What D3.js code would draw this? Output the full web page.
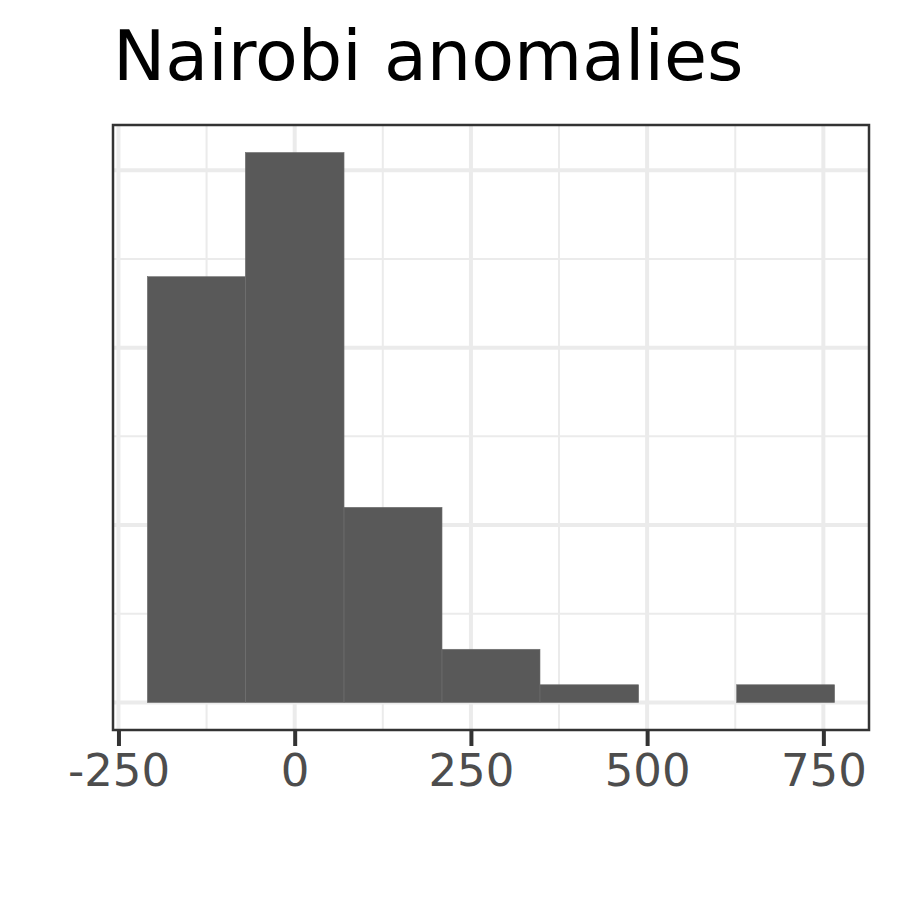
<!DOCTYPE html>
<html>
<head>
<meta charset="utf-8">
<script src="https://cdn.jsdelivr.net/npm/d3@7"></script>
<style>
  body { margin: 0; background: #fff; }
  svg { display: block; }
</style>
</head>
<body>
<div class="chart"></div>
<script>
// histogram bins
const binEdges = [-209, -70, 70, 209, 348, 488, 627, 766];
const counts = [24, 31, 11, 3, 1, 0, 1];
const xTicks = [-250, 0, 250, 500, 750];
const xMinor = [-125, 125, 375, 625];
const yMajor = [0, 10, 20, 30];
const yMinor = [5, 15, 25];
const title = 'Nairobi anomalies';

const bins = counts.map((c, i) => ({ x0: binEdges[i], x1: binEdges[i + 1], count: c }));

const chartWidth = 900;
const chartHeight = 900;
const margin = { left: 113, right: 31, top: 125, bottom: 170 };
const width = chartWidth - margin.left - margin.right;
const height = chartHeight - margin.top - margin.bottom;

const svg = d3.select('.chart')
  .append('svg')
  .attr('width', chartWidth)
  .attr('height', chartHeight);

svg.append('text')
  .attr('x', 113)
  .attr('y', 80)
  .attr('font-family', 'DejaVu Sans')
  .attr('font-size', '70px')
  .attr('fill', '#000')
  .text(title);

const g = svg.append('g')
  .attr('transform', `translate(${margin.left}, ${margin.top})`);

// ggplot-style 5% expansion
const xLo = d3.min(binEdges), xHi = d3.max(binEdges);
const xPad = (xHi - xLo) * 0.05;
const xScale = d3.scaleLinear()
  .domain([xLo - xPad, xHi + xPad])
  .range([0, width]);

const yMax = d3.max(counts);
const yScale = d3.scaleLinear()
  .domain([-yMax * 0.05, yMax * 1.05])
  .range([height, 0]);

g.append('rect')
  .attr('width', width)
  .attr('height', height)
  .attr('fill', '#fff');

// grid
g.selectAll('.xminor').data(xMinor).enter().append('line')
  .attr('x1', d => xScale(d)).attr('x2', d => xScale(d))
  .attr('y1', 0).attr('y2', height)
  .attr('stroke', '#ebebeb').attr('stroke-width', 2);
g.selectAll('.yminor').data(yMinor).enter().append('line')
  .attr('y1', d => yScale(d)).attr('y2', d => yScale(d))
  .attr('x1', 0).attr('x2', width)
  .attr('stroke', '#ebebeb').attr('stroke-width', 2);
g.selectAll('.xmajor').data(xTicks).enter().append('line')
  .attr('x1', d => xScale(d)).attr('x2', d => xScale(d))
  .attr('y1', 0).attr('y2', height)
  .attr('stroke', '#ebebeb').attr('stroke-width', 4);
g.selectAll('.ymajor').data(yMajor).enter().append('line')
  .attr('y1', d => yScale(d)).attr('y2', d => yScale(d))
  .attr('x1', 0).attr('x2', width)
  .attr('stroke', '#ebebeb').attr('stroke-width', 4);

// bars
g.selectAll('.bar')
  .data(bins.filter(d => d.count > 0))
  .enter()
  .append('rect')
  .attr('x', d => xScale(d.x0))
  .attr('y', d => yScale(d.count))
  .attr('width', d => xScale(d.x1) - xScale(d.x0))
  .attr('height', d => yScale(0) - yScale(d.count))
  .attr('fill', '#595959')
  .attr('stroke', '#6e6e6e')
  .attr('stroke-width', 0.6);

// panel border
g.append('rect')
  .attr('width', width)
  .attr('height', height)
  .attr('fill', 'none')
  .attr('stroke', '#333333')
  .attr('stroke-width', 2.5);

// x axis (plain hyphen for negatives, like R)
const xAxis = d3.axisBottom(xScale)
  .tickValues(xTicks)
  .tickSize(16)
  .tickPadding(8)
  .tickFormat(d => String(d));
const ax = g.append('g')
  .attr('transform', `translate(0, ${height})`)
  .call(xAxis);
ax.select('.domain').remove();
ax.selectAll('.tick line')
  .attr('stroke', '#333333')
  .attr('stroke-width', 4);
ax.selectAll('.tick text')
  .attr('font-family', 'DejaVu Sans')
  .attr('font-size', '45px')
  .attr('fill', '#4d4d4d');
</script>
</body>
</html>
